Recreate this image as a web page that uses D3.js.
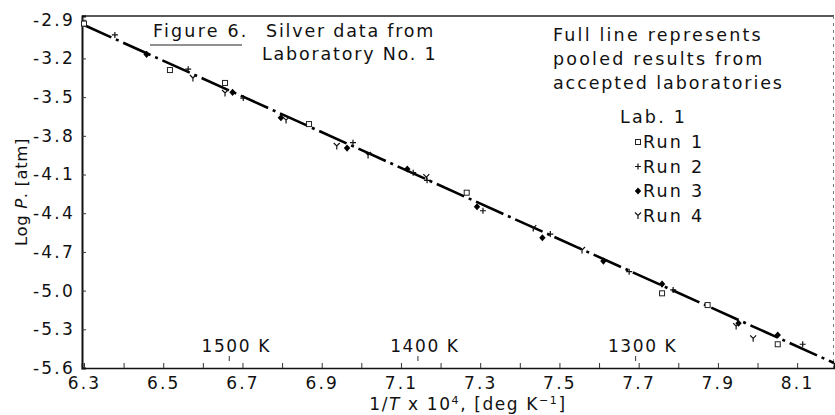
<!DOCTYPE html>
<html>
<head>
<meta charset="utf-8">
<script src="https://cdn.jsdelivr.net/npm/d3@7"></script>
<style>
  body { margin: 0; background: #fff; }
  svg { display: block; }
  text { font-family: "DejaVu Sans", sans-serif; fill: #111; }
</style>
</head>
<body>
<div id="chart"></div>
<script>
// Silver vapour pressure, Laboratory No. 1
const run1X = [6.30, 6.517, 6.656, 6.868, 7.266, 7.759, 7.874, 8.051];
const run1Y = [-2.93, -3.29, -3.39, -3.709, -4.241, -5.021, -5.112, -5.416];

const run2X = [6.378, 6.563, 6.702, 6.979, 7.131, 7.166, 7.307, 7.477, 7.676, 7.787, 8.114];
const run2Y = [-3.018, -3.283, -3.507, -3.853, -4.086, -4.145, -4.381, -4.562, -4.853, -4.995, -5.416];

const run3X = [6.458, 6.675, 6.797, 6.964, 7.116, 7.292, 7.457, 7.611, 7.759, 7.952, 8.051];
const run3Y = [-3.168, -3.463, -3.66, -3.895, -4.057, -4.35, -4.59, -4.771, -4.949, -5.253, -5.344];

const run4X = [6.575, 6.656, 6.81, 6.938, 7.017, 7.164, 7.434, 7.557, 7.946, 7.989];
const run4Y = [-3.352, -3.468, -3.678, -3.879, -3.949, -4.12, -4.515, -4.685, -5.275, -5.37];

// pooled line from accepted laboratories
const pooledX = [6.30, 8.193];
const pooledY = [-2.941, -5.561];

const yTicks = [-2.9, -3.2, -3.5, -3.8, -4.1, -4.4, -4.7, -5.0, -5.3, -5.6];
const xMinorTicks = d3.range(19).map(i => +(6.3 + i * 0.1).toFixed(1));
const xLabelTicks = [6.3, 6.5, 6.7, 6.9, 7.1, 7.3, 7.5, 7.7, 7.9, 8.1];
const tempTicks = [1500, 1400, 1300];

const W = 835, H = 415;
const svg = d3.select('#chart').append('svg')
  .attr('width', W).attr('height', H);

const x = d3.scaleLinear().domain([6.295, 8.193]).range([82, 834]);
const y = d3.scaleLinear().domain([-5.6, -2.871]).range([368, 16]);

const [x0, x1] = x.range();
const [y0, y1] = y.range();

// frame
svg.append('line').attr('x1', x0).attr('x2', x1).attr('y1', y1).attr('y2', y1)
  .attr('stroke', '#222').attr('stroke-width', 1.3);
svg.append('line').attr('x1', x1 - 0.5).attr('x2', x1 - 0.5).attr('y1', y1).attr('y2', y0)
  .attr('stroke', '#777').attr('stroke-width', 1).attr('stroke-dasharray', '3,4');

// y axis (ticks inward)
const yAxis = d3.axisLeft(y).tickValues(yTicks).tickSize(-4).tickPadding(7)
  .tickFormat(d => d.toFixed(1));
const gy = svg.append('g').attr('transform', `translate(${x0},0)`).call(yAxis);
gy.select('.domain').attr('stroke', '#111').attr('stroke-width', 2);
gy.selectAll('.tick line').attr('stroke', '#333');
gy.selectAll('.tick text').style('font-size', '17px').style('letter-spacing', '2.2px')
  .attr('fill', '#111');

// x axis (ticks inward)
const xAxis = d3.axisBottom(x).tickValues(xMinorTicks).tickSize(-5).tickPadding(9)
  .tickFormat(d => xLabelTicks.includes(d) ? d.toFixed(1) : '');
const gx = svg.append('g').attr('transform', `translate(0,${y0})`).call(xAxis);
gx.select('.domain').attr('stroke', '#111').attr('stroke-width', 1.6);
gx.selectAll('.tick line').attr('stroke', '#333');
gx.selectAll('.tick text').style('font-size', '17px').style('letter-spacing', '2.2px')
  .attr('fill', '#111');

// temperature markers
tempTicks.forEach(t => {
  const px = x(1e4 / t);
  svg.append('line').attr('x1', px).attr('x2', px).attr('y1', y0 - 12).attr('y2', y0 - 7)
    .attr('stroke', '#333').attr('stroke-width', 1);
  svg.append('text').attr('x', px + 7).attr('y', y0 - 16)
    .attr('text-anchor', 'middle').style('font-size', '17px').style('letter-spacing', '1.6px')
    .text(`${t} K`);
});

// pooled line
const line = d3.line().x(d => x(d[0])).y(d => y(d[1]));
svg.append('path')
  .datum(d3.zip(pooledX, pooledY))
  .attr('d', line)
  .attr('fill', 'none').attr('stroke', '#000').attr('stroke-width', 2.6)
  .attr('stroke-dasharray', '30,5,3,5');

// markers
const markSquare = (g) => g.append('rect').attr('x', -2.5).attr('y', -2.5)
  .attr('width', 5).attr('height', 5).attr('fill', '#fff').attr('stroke', '#222').attr('stroke-width', 1);
const markPlus = (g) => g.append('path').attr('d', 'M-3,0H3M0,-3V3')
  .attr('stroke', '#111').attr('stroke-width', 1.2).attr('fill', 'none');
const markDiamond = (g) => g.append('path').attr('d', 'M0,-3.6L3.2,0L0,3.6L-3.2,0Z')
  .attr('fill', '#000');
const markY = (g) => g.append('path').attr('d', 'M-3,-3L0,0L3,-3M0,0V3.5')
  .attr('stroke', '#111').attr('stroke-width', 1.2).attr('fill', 'none');

const runs = [
  { xs: run1X, ys: run1Y, mark: markSquare, label: 'Run 1' },
  { xs: run2X, ys: run2Y, mark: markPlus, label: 'Run 2' },
  { xs: run3X, ys: run3Y, mark: markDiamond, label: 'Run 3' },
  { xs: run4X, ys: run4Y, mark: markY, label: 'Run 4' }
];

runs.forEach(r => {
  d3.zip(r.xs, r.ys).forEach(([vx, vy]) => {
    const g = svg.append('g').attr('transform', `translate(${x(vx)},${y(vy)})`);
    r.mark(g);
  });
});

// annotations
const txt = (tx, ty, s, size = 17.5, ls = 2.2) => svg.append('text')
  .attr('x', tx).attr('y', ty).style('font-size', size + 'px').style('letter-spacing', ls + 'px').text(s);

txt(153, 37, 'Figure 6.');
svg.append('line').attr('x1', 150).attr('x2', 242).attr('y1', 45).attr('y2', 45)
  .attr('stroke', '#222').attr('stroke-width', 1.2);
txt(266, 37, 'Silver data from', 17.5, 1.8);
txt(262, 60, 'Laboratory No. 1', 17.5, 1.8);

txt(553, 41, 'Full line represents');
txt(553, 65, 'pooled results from');
txt(553, 89, 'accepted laboratories', 17.5, 1.9);
txt(620, 123, 'Lab. 1');

runs.forEach((r, i) => {
  const by = 148 + i * 24.5;
  const g = svg.append('g').attr('transform', `translate(638,${by - 6})`);
  r.mark(g);
  txt(643, by, r.label);
});

// axis titles
const xt = svg.append('text').attr('x', 468).attr('y', 410).attr('text-anchor', 'middle')
  .style('font-size', '17px').style('letter-spacing', '1.6px');
xt.append('tspan').text('1/');
xt.append('tspan').style('font-style', 'italic').text('T');
xt.append('tspan').text('  x 10');
xt.append('tspan').attr('dy', -6).style('font-size', '11px').text('4');
xt.append('tspan').attr('dy', 6).text(', [deg K');
xt.append('tspan').attr('dy', -6).style('font-size', '11px').text('−1');
xt.append('tspan').attr('dy', 6).text(']');

const yt = svg.append('text').attr('transform', 'translate(27,192) rotate(-90)')
  .attr('text-anchor', 'middle').style('font-size', '16.5px').style('letter-spacing', '0.6px');
yt.append('tspan').text('Log ');
yt.append('tspan').style('font-style', 'italic').text('P');
yt.append('tspan').text('. [atm]');
</script>
</body>
</html>
